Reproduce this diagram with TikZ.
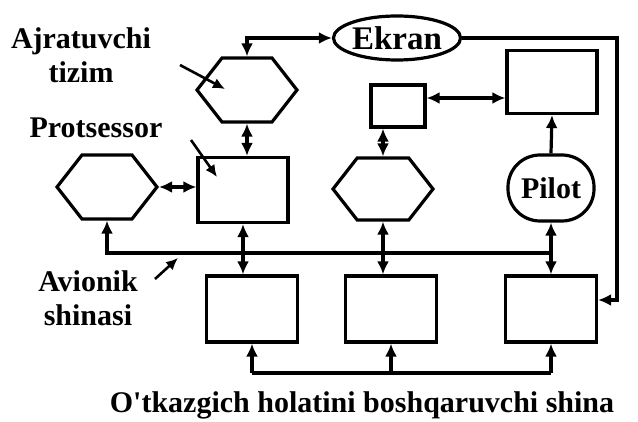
\documentclass[tikz,border=0pt]{standalone}
\usepackage{fontspec}
\setmainfont{Liberation Serif}
\usepackage{tikz}
\usetikzlibrary{positioning,arrows.meta,shapes.symbols,shapes.geometric}

\begin{document}
\begin{tikzpicture}[
    x=1pt, y=-1pt,
    line width=3.2pt,
    box/.style={draw, rectangle, minimum width=90pt, minimum height=65pt},
    hexa/.style={draw, signal, signal to=east and west, signal pointer angle=104, minimum width=100pt, minimum height=64pt},
    oval/.style={draw, ellipse, inner sep=0pt, minimum width=127pt, minimum height=44pt, font=\lbfont},
    pil/.style={draw, rectangle, rounded corners=32pt, minimum width=86pt, minimum height=66pt, font=\lbfont},
    lbl/.style={align=center, font=\lbfont},
    arrow/.style={-{Latex[length=13pt,width=12pt]}},
    dbl/.style={{Latex[length=13pt,width=12pt]}-{Latex[length=13pt,width=12pt]}},
    ptr/.style={line width=2.6pt, -{Latex[length=12pt,width=11pt]}},
]
    \providecommand{\lbfont}{\bfseries\fontsize{30}{34}\selectfont}
    \useasboundingbox (0,0) rectangle (638,422);

    % upper row
    \node[hexa] (ajrat) at (247,90) {};
    \node[oval, font=\bfseries\fontsize{33}{36}\selectfont] (ekran) at (397,38) {Ekran};
    \node[box, minimum width=54pt, minimum height=42pt] (disp) at (398,106) {};
    \node[box, minimum height=63pt] (topbox) at (552,82) {};

    % middle row
    \node[hexa] (lhex) at (107,187) {};
    \node[box] (proc) at (243,190) {};
    \node[hexa, minimum height=62pt] (mhex) at (383,189) {};
    \node[pil] (pilot) at (551,188) {Pilot};

    % lower row
    \node[box, minimum width=91pt, minimum height=66pt] (b1) at (252,309) {};
    \node[box, minimum width=91pt, minimum height=66pt] (b2) at (391,309) {};
    \node[box, minimum width=91pt, minimum height=66pt] (b3) at (551,309) {};

    % labels
    \node[lbl] (ajratlbl) at (81,55) {Ajratuvchi\\tizim};
    \node[lbl, anchor=base] (proclbl) at (96,138) {Protsessor};
    \node[lbl] (buslbl) at (88,298) {Avionik\\shinasi};
    \node[lbl, anchor=base] (shina) at (362,413) {O\textquotesingle tkazgich holatini boshqaruvchi shina};

    \coordinate (busR) at (551,253);
    \coordinate (rc) at (617,300);
    \coordinate (bot) at (0,373);
    \coordinate (p1) at (180,65);
    \coordinate (p2) at (191,140);
    \coordinate (p3) at (155,279);
    \coordinate (q3) at (178,258);

    % connectors
    \draw[dbl] (ajrat.north) |- (ekran.west);
    \draw[dbl] (ajrat.south) -- (ajrat.south |- proc.north);
    \draw[dbl] (lhex.east) -- (lhex.east -| proc.west);
    \draw[dbl] ([yshift=8pt]disp.east) -- ([yshift=8pt]disp.east -| topbox.west);
    \draw[dbl] (mhex.north |- disp.south) -- (mhex.north);
    \draw[arrow] (pilot.north) -- (topbox.south);
    \draw[arrow] (busR) -| (lhex.south);
    \draw[dbl] (proc.south) -- (proc.south |- b1.north);
    \draw[dbl] (mhex.south) -- (mhex.south |- b2.north);
    \draw[dbl] (pilot.south) -- (b3.north);
    \draw[arrow] (ekran.east) -| (rc) -- (rc -| b3.east);
    \draw (b1.south |- bot) -- (b3.south |- bot);
    \foreach \b in {b1,b2,b3}
        \draw[arrow] (\b.south |- bot) -- (\b.south);

    % pointers
    \draw[ptr] (p1) -- (225,89);
    \draw[ptr] (p2) -- (217,177);
    \draw[ptr] (p3) -- (q3);
\end{tikzpicture}
\end{document}
